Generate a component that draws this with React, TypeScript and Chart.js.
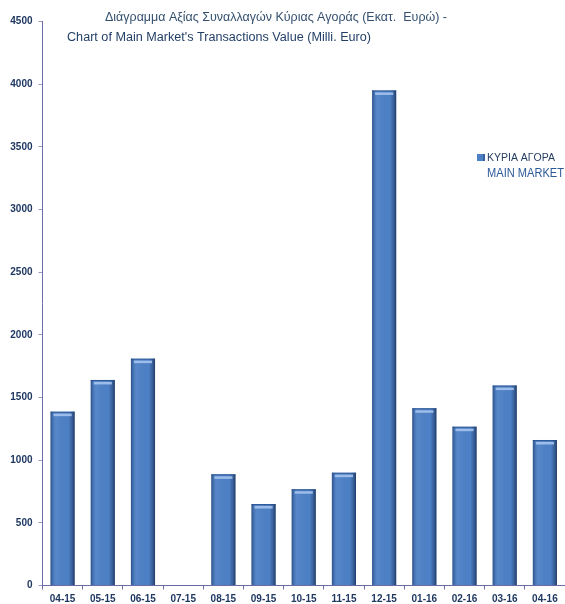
import React, { useEffect, useRef } from "react";
import { Chart, registerables } from "chart.js";

Chart.register(...registerables);

const categories = ["04-15", "05-15", "06-15", "07-15", "08-15", "09-15", "10-15", "11-15", "12-15", "01-16", "02-16", "03-16", "04-16"];
const mainMarketValues: (number | null)[] = [1387, 1640, 1810, null, 887, 650, 768, 900, 3950, 1414, 1267, 1595, 1161];
const titleLines = [
  "Διάγραμμα Αξίας Συναλλαγών Κύριας Αγοράς (Εκατ.  Ευρώ) -",
  "Chart of Main Market's Transactions Value (Milli. Euro)",
];
const legendLines = ["ΚΥΡΙΑ ΑΓΟΡΑ", "MAIN MARKET"];
const yMax = 4500;
const yStep = 500;

const BAR_COLOR = "#4d80c6";
const AXIS_COLOR = "#6b6ba6";
const LABEL_COLOR = "#1f3862";

function drawFit(ctx: CanvasRenderingContext2D, text: string, x: number, y: number, w: number, font: string, color: string) {
  ctx.save();
  ctx.font = font;
  ctx.fillStyle = color;
  ctx.textBaseline = "alphabetic";
  ctx.textAlign = "left";
  const m = ctx.measureText(text).width;
  ctx.translate(x, y);
  ctx.scale(w / m, 1);
  ctx.fillText(text, 0, 0);
  ctx.restore();
}

const barShading = {
  id: "barShading",
  afterDatasetsDraw(chart: any) {
    const ctx = chart.ctx as CanvasRenderingContext2D;
    const meta = chart.getDatasetMeta(0);
    meta.data.forEach((el: any) => {
      const { x, y, base, width } = el.getProps(["x", "y", "base", "width"], true);
      const h = base - y;
      if (!isFinite(h) || h < 1) return;
      const l = x - width / 2;
      ctx.save();
      const g = ctx.createLinearGradient(l, 0, l + width, 0);
      g.addColorStop(0, "rgba(25,45,85,0.55)");
      g.addColorStop(0.1, "rgba(25,45,85,0.15)");
      g.addColorStop(0.25, "rgba(255,255,255,0.05)");
      g.addColorStop(0.75, "rgba(0,0,0,0)");
      g.addColorStop(0.88, "rgba(20,35,70,0.3)");
      g.addColorStop(1, "rgba(15,30,60,0.7)");
      ctx.fillStyle = g;
      ctx.fillRect(l, y, width, h);
      ctx.fillStyle = "rgba(40,80,140,0.8)";
      ctx.fillRect(l, y, width, 1);
      ctx.fillStyle = "rgba(170,200,240,0.85)";
      ctx.fillRect(l + 3, y + 2, width - 6, 2.5);
      ctx.restore();
    });
  },
};

const texts = {
  id: "texts",
  afterDraw(chart: any) {
    const ctx = chart.ctx as CanvasRenderingContext2D;
    drawFit(ctx, titleLines[0], 105, 21, 342, "12.5px 'Liberation Sans', Arial, sans-serif", "#34506f");
    drawFit(ctx, titleLines[1], 67, 41, 304, "12.5px 'Liberation Sans', Arial, sans-serif", "#223f66");
    ctx.save();
    ctx.fillStyle = BAR_COLOR;
    ctx.fillRect(477, 154, 8, 7);
    ctx.fillStyle = "rgba(20,40,80,0.35)";
    ctx.fillRect(483, 154, 2, 7);
    ctx.restore();
    drawFit(ctx, legendLines[0], 487, 161, 68, "10px 'Liberation Sans', Arial, sans-serif", "#243d62");
    drawFit(ctx, legendLines[1], 487, 177, 77, "12px 'Liberation Sans', Arial, sans-serif", "#2c5a98");
  },
};

export default function App() {
  const ref = useRef<HTMLCanvasElement | null>(null);
  useEffect(() => {
    if (!ref.current) return;
    const chart = new Chart(ref.current, {
      type: "bar",
      data: {
        labels: categories,
        datasets: [
          {
            label: legendLines.join(" / "),
            data: mainMarketValues,
            backgroundColor: BAR_COLOR,
            borderWidth: 0,
            barPercentage: 0.6,
            categoryPercentage: 1,
          },
        ],
      },
      options: {
        animation: false,
        responsive: false,
        maintainAspectRatio: false,
        devicePixelRatio: 1,
        layout: { padding: { top: 21.5, left: 0, right: 0, bottom: 0 } },
        plugins: {
          legend: { display: false },
          title: { display: false },
          tooltip: { enabled: false },
        },
        scales: {
          x: {
            offset: true,
            grid: { offset: true, drawOnChartArea: false, drawTicks: true, tickLength: 4, color: AXIS_COLOR },
            border: { color: AXIS_COLOR, width: 1 },
            ticks: {
              color: LABEL_COLOR,
              font: { family: "'Liberation Sans', Arial, sans-serif", size: 10, weight: "bold" },
              padding: 4,
              maxRotation: 0,
              autoSkip: false,
            },
            afterFit: (s: any) => {
              s.height = 18.5;
            },
          },
          y: {
            min: 0,
            max: yMax,
            grid: { drawOnChartArea: false, drawTicks: true, tickLength: 4, color: "#9a9ac0" },
            border: { color: AXIS_COLOR, width: 1 },
            ticks: {
              stepSize: yStep,
              color: LABEL_COLOR,
              font: { family: "'Liberation Sans', Arial, sans-serif", size: 10, weight: "bold" },
              padding: 6,
              callback: (v: any) => String(v),
            },
            afterFit: (s: any) => {
              s.width = 42.5;
            },
          },
        },
      },
      plugins: [barShading, texts],
    });
    return () => chart.destroy();
  }, []);
  return (
    <div style={{ position: "fixed", left: 0, top: 0, width: 565, height: 604, background: "#fff" }}>
      <canvas ref={ref} width={565} height={604} style={{ width: 565, height: 604, display: "block" }} />
    </div>
  );
}
